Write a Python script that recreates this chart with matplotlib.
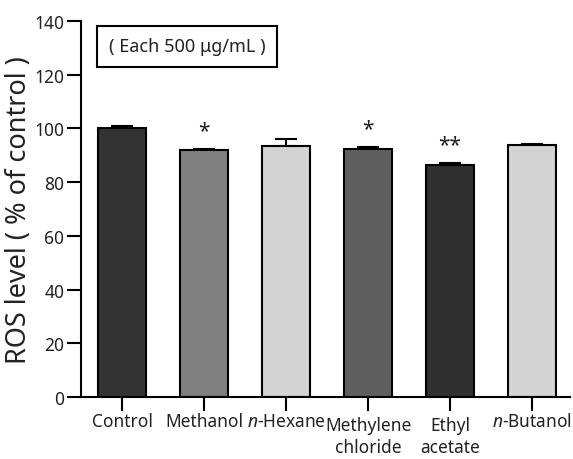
import numpy as np
import matplotlib
matplotlib.use('Agg')
import matplotlib.pyplot as plt
from matplotlib.transforms import ScaledTranslation

# data
labels = ['Control', 'Methanol', '$\\it{n}$-Hexane', 'Methylene\nchloride', 'Ethyl\nacetate', '$\\it{n}$-Butanol']
means = [100.0, 91.8, 93.6, 92.3, 86.3, 93.8]
errs = [0.9, 0.4, 2.6, 0.9, 0.7, 0.5]
stars = ['', '*', '', '*', '**', '']
colors = ['#333333', '#808080', '#d3d3d3', '#5f5f5f', '#303030', '#d3d3d3']

plt.rcParams['font.family'] = ['Noto Sans', 'DejaVu Sans']
plt.rcParams['mathtext.fontset'] = 'custom'
plt.rcParams['mathtext.it'] = 'Noto Sans:italic'
fig = plt.figure(figsize=(5.73, 4.6), dpi=100)
ax = fig.add_axes([0.141, 0.135, 0.854, 0.817])

x = np.arange(len(labels))
ax.bar(x, means, width=0.59, color=colors, edgecolor='black', linewidth=1.5, zorder=2)
ax.errorbar(x, means, yerr=[[0] * len(errs), errs], fmt='none', ecolor='black',
            elinewidth=1.5, capsize=8, capthick=1.5, zorder=1)

for xi, m, e, s in zip(x, means, errs, stars):
    if s:
        ax.text(xi, m + e + 3.0, s, ha='center', va='bottom', fontsize=15, color='#222222')

ax.set_xlim(-0.505, 5.465)
ax.set_ylim(0, 140)
ax.set_yticks(range(0, 141, 20))
ax.set_xticks(x)
ax.set_xticklabels(labels, fontsize=12.5, color='#222222', linespacing=1.3)
ax.tick_params(axis='y', labelsize=12.5, length=10, width=1.5, labelcolor='#222222', pad=2)
ax.tick_params(axis='x', length=10, width=1.5, pad=1)
# two-line labels sit a little lower in the original
for lab in ax.get_xticklabels():
    if '\n' in lab.get_text():
        lab.set_transform(lab.get_transform() + ScaledTranslation(0, -2.5 / 72, fig.dpi_scale_trans))
ax.spines['top'].set_visible(False)
ax.spines['right'].set_visible(False)
ax.spines['left'].set_linewidth(1.5)
ax.spines['bottom'].set_linewidth(1.5)
ax.set_ylabel('ROS level ( % of control )', fontsize=19.5, color='#222222', labelpad=1)

ax.text(0.217, 0.933, '( Each 500 \u03bcg/mL )', transform=ax.transAxes, ha='center', va='center',
        fontsize=13, color='#222222',
        bbox=dict(boxstyle='square,pad=0.65', facecolor='white', edgecolor='black', linewidth=1.5))

fig.savefig('out.png', dpi=100)
